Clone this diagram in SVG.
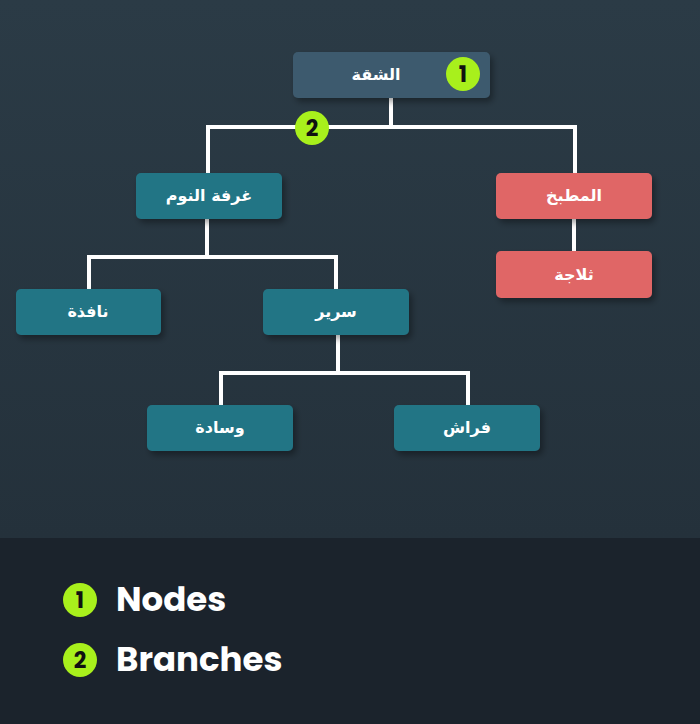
<svg xmlns="http://www.w3.org/2000/svg" width="700" height="724" viewBox="0 0 700 724">
<defs>
<linearGradient id="bg" x1="0" y1="0" x2="0" y2="1">
<stop offset="0" stop-color="#2b3b46"/>
<stop offset="1" stop-color="#24313b"/>
</linearGradient>
<filter id="sh" x="-20%" y="-30%" width="150%" height="180%">
<feDropShadow dx="3" dy="4" stdDeviation="3" flood-color="#000" flood-opacity="0.35"/>
</filter>
</defs>
<style>
.n{filter:url(#sh)}
.t{font-family:"DejaVu Sans","Noto Sans",sans-serif;font-weight:bold;font-size:16px;fill:#fff;text-anchor:middle;direction:rtl}
.teal{fill:#237585}
.red{fill:#e06666}
.root{fill:#3d5a6e}
.c{stroke:#fff;stroke-width:4;fill:none;stroke-linejoin:miter}
.b{fill:#a8f01c}
.bt{font-family:"Poppins","Inter","Liberation Sans",sans-serif;font-weight:bold;font-size:22px;fill:#111;text-anchor:middle}
.lg{font-family:"Poppins","Inter","Liberation Sans",sans-serif;font-weight:bold;font-size:34px;fill:#fff}
</style>
<rect x="0" y="0" width="700" height="538" fill="url(#bg)"/>
<rect x="0" y="538" width="700" height="186" fill="#1b232c"/>
<g id="connectors">
<path class="c" d="M391,98 V127 M208,175 V127 H575 V175"/>
<path class="c" d="M574,219 V253"/>
<path class="c" d="M207,219 V257 M89,291 V257 H336 V291"/>
<path class="c" d="M338,335 V373 M221,407 V373 H468 V407"/>
</g>
<g id="n-root"><rect class="n root" x="293" y="52" width="197" height="46" rx="5"/><text class="t" x="376" y="80">الشقة</text></g>
<g id="n-bedroom"><rect class="n teal" x="136" y="173" width="146" height="46" rx="5"/><text class="t" x="209" y="201">غرفة النوم</text></g>
<g id="n-kitchen"><rect class="n red" x="496" y="173" width="156" height="46" rx="5"/><text class="t" x="574" y="201">المطبخ</text></g>
<g id="n-fridge"><rect class="n red" x="496" y="251" width="156" height="47" rx="5"/><text class="t" x="574" y="280">ثلاجة</text></g>
<g id="n-window"><rect class="n teal" x="16" y="289" width="145" height="46" rx="5"/><text class="t" x="88" y="317">نافذة</text></g>
<g id="n-bed"><rect class="n teal" x="263" y="289" width="146" height="46" rx="5"/><text class="t" x="336" y="317">سرير</text></g>
<g id="n-pillow"><rect class="n teal" x="147" y="405" width="146" height="46" rx="5"/><text class="t" x="220" y="433">وسادة</text></g>
<g id="n-mattress"><rect class="n teal" x="394" y="405" width="146" height="46" rx="5"/><text class="t" x="467" y="433">فراش</text></g>
<g id="badges">
<circle class="b" cx="463" cy="74" r="17"/><text class="bt" x="463" y="82">1</text>
<circle class="b" cx="312" cy="128" r="17"/><text class="bt" x="312" y="136">2</text>
</g>
<g id="legend">
<circle class="b" cx="80" cy="600" r="17"/><text class="bt" x="80" y="608">1</text>
<text class="lg" x="116" y="611">Nodes</text>
<circle class="b" cx="80" cy="660" r="17"/><text class="bt" x="80" y="668">2</text>
<text class="lg" x="116" y="671">Branches</text>
</g>
</svg>
